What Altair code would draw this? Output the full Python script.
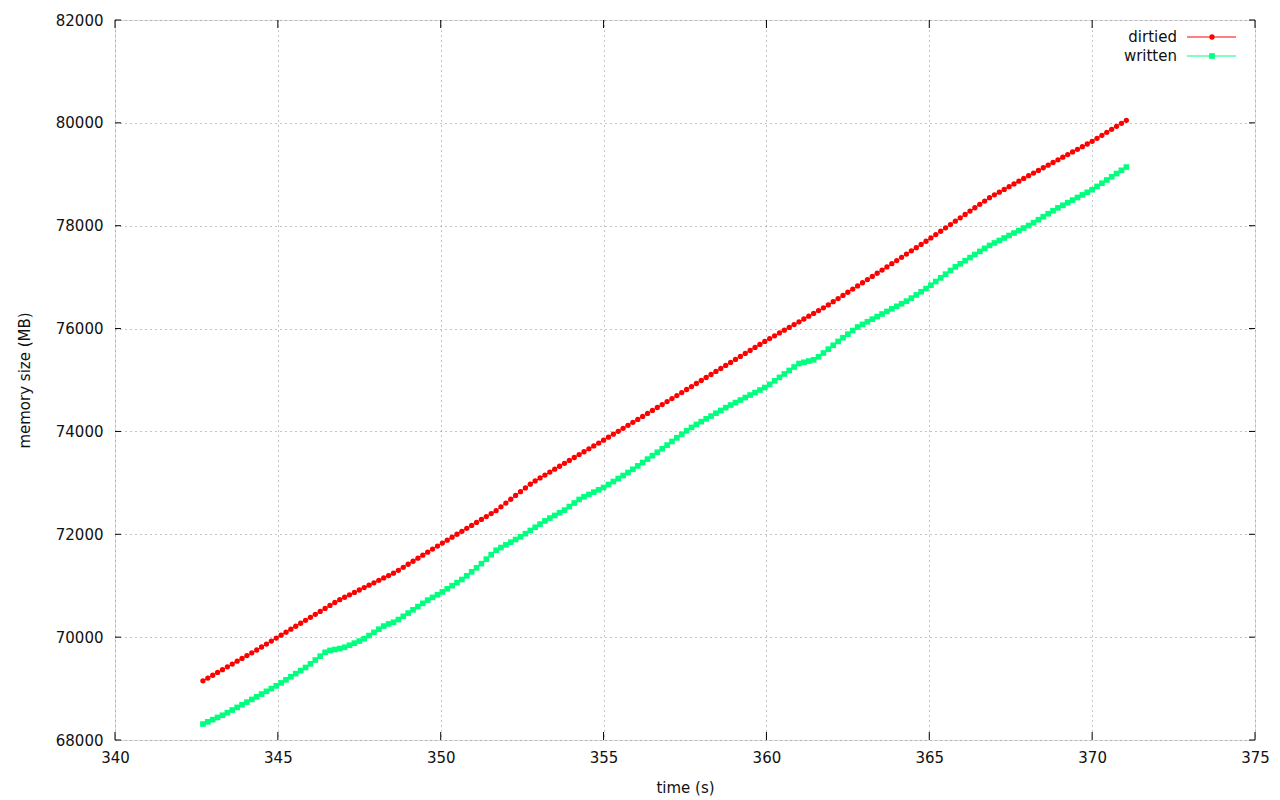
import altair as alt
import pandas as pd

TIME = [
    342.70, 342.85, 343.00, 343.15, 343.30, 343.45, 343.60, 343.75, 343.90, 344.05,
    344.20, 344.35, 344.50, 344.65, 344.80, 344.95, 345.10, 345.25, 345.40, 345.55,
    345.70, 345.85, 346.00, 346.15, 346.30, 346.45, 346.60, 346.75, 346.90, 347.05,
    347.20, 347.35, 347.50, 347.65, 347.80, 347.95, 348.10, 348.25, 348.40, 348.55,
    348.70, 348.85, 349.00, 349.15, 349.30, 349.45, 349.60, 349.75, 349.90, 350.05,
    350.20, 350.35, 350.50, 350.65, 350.80, 350.95, 351.10, 351.25, 351.40, 351.55,
    351.70, 351.85, 352.00, 352.15, 352.30, 352.45, 352.60, 352.75, 352.90, 353.05,
    353.20, 353.35, 353.50, 353.65, 353.80, 353.95, 354.10, 354.25, 354.40, 354.55,
    354.70, 354.85, 355.00, 355.15, 355.30, 355.45, 355.60, 355.75, 355.90, 356.05,
    356.20, 356.35, 356.50, 356.65, 356.80, 356.95, 357.10, 357.25, 357.40, 357.55,
    357.70, 357.85, 358.00, 358.15, 358.30, 358.45, 358.60, 358.75, 358.90, 359.05,
    359.20, 359.35, 359.50, 359.65, 359.80, 359.95, 360.10, 360.25, 360.40, 360.55,
    360.70, 360.85, 361.00, 361.15, 361.30, 361.45, 361.60, 361.75, 361.90, 362.05,
    362.20, 362.35, 362.50, 362.65, 362.80, 362.95, 363.10, 363.25, 363.40, 363.55,
    363.70, 363.85, 364.00, 364.15, 364.30, 364.45, 364.60, 364.75, 364.90, 365.05,
    365.20, 365.35, 365.50, 365.65, 365.80, 365.95, 366.10, 366.25, 366.40, 366.55,
    366.70, 366.85, 367.00, 367.15, 367.30, 367.45, 367.60, 367.75, 367.90, 368.05,
    368.20, 368.35, 368.50, 368.65, 368.80, 368.95, 369.10, 369.25, 369.40, 369.55,
    369.70, 369.85, 370.00, 370.15, 370.30, 370.45, 370.60, 370.75, 370.90, 371.05,
]

DIRTIED = [
    69150, 69205, 69259, 69314, 69368, 69423, 69477, 69532, 69586, 69641,
    69695, 69750, 69808, 69865, 69923, 69981, 70039, 70096, 70154, 70212,
    70270, 70327, 70385, 70443, 70501, 70558, 70616, 70674, 70729, 70776,
    70823, 70870, 70917, 70963, 71010, 71057, 71104, 71151, 71198, 71244,
    71299, 71358, 71417, 71476, 71535, 71594, 71653, 71712, 71771, 71829,
    71886, 71943, 72001, 72058, 72116, 72173, 72231, 72288, 72345, 72403,
    72460, 72534, 72607, 72681, 72755, 72828, 72902, 72975, 73038, 73095,
    73152, 73209, 73266, 73323, 73380, 73436, 73493, 73549, 73605, 73661,
    73718, 73774, 73830, 73888, 73946, 74003, 74061, 74119, 74177, 74234,
    74292, 74350, 74408, 74465, 74523, 74581, 74639, 74698, 74756, 74815,
    74873, 74932, 74990, 75049, 75107, 75166, 75224, 75283, 75341, 75400,
    75458, 75517, 75575, 75634, 75692, 75751, 75806, 75860, 75915, 75969,
    76023, 76078, 76132, 76186, 76241, 76295, 76349, 76404, 76460, 76522,
    76583, 76645, 76706, 76768, 76830, 76891, 76953, 77014, 77076, 77137,
    77199, 77261, 77323, 77386, 77448, 77511, 77573, 77636, 77698, 77762,
    77827, 77892, 77958, 78023, 78088, 78153, 78219, 78284, 78349, 78415,
    78480, 78545, 78600, 78653, 78706, 78759, 78813, 78866, 78919, 78972,
    79024, 79076, 79127, 79178, 79229, 79281, 79332, 79383, 79435, 79486,
    79537, 79589, 79640, 79699, 79757, 79816, 79874, 79933, 79991, 80050,
]

WRITTEN = [
    68310, 68353, 68396, 68439, 68481, 68531, 68583, 68634, 68686, 68737,
    68789, 68840, 68893, 68946, 69000, 69053, 69110, 69170, 69230, 69290,
    69350, 69410, 69480, 69555, 69630, 69705, 69742, 69760, 69778, 69803,
    69843, 69883, 69923, 69970, 70031, 70093, 70154, 70215, 70257, 70289,
    70342, 70405, 70468, 70531, 70594, 70657, 70720, 70773, 70825, 70880,
    70940, 71000, 71060, 71120, 71192, 71270, 71348, 71429, 71516, 71603,
    71690, 71742, 71794, 71846, 71898, 71950, 72012, 72074, 72136, 72198,
    72260, 72315, 72366, 72418, 72470, 72539, 72608, 72677, 72730, 72775,
    72820, 72865, 72910, 72968, 73026, 73084, 73143, 73201, 73264, 73330,
    73396, 73462, 73529, 73595, 73663, 73734, 73805, 73876, 73944, 74011,
    74078, 74136, 74190, 74245, 74299, 74354, 74408, 74462, 74513, 74561,
    74610, 74659, 74708, 74756, 74805, 74854, 74915, 74983, 75050, 75118,
    75185, 75253, 75320, 75344, 75368, 75392, 75450, 75525, 75600, 75675,
    75750, 75822, 75891, 75961, 76030, 76081, 76132, 76183, 76233, 76283,
    76333, 76383, 76433, 76483, 76533, 76592, 76654, 76716, 76778, 76844,
    76915, 76986, 77058, 77129, 77200, 77260, 77320, 77380, 77440, 77500,
    77560, 77616, 77665, 77713, 77762, 77810, 77858, 77907, 77955, 78004,
    78059, 78117, 78175, 78233, 78291, 78347, 78397, 78448, 78498, 78549,
    78599, 78650, 78700, 78763, 78826, 78889, 78951, 79014, 79077, 79140,
]

SERIES = ["dirtied", "written"]
COLORS = ["#ff0000", "#00ff7f"]
SHAPES = ["circle", "square"]
SIZES = [28, 32]
X_TICKS = [340, 345, 350, 355, 360, 365, 370, 375]
Y_TICKS = [68000, 70000, 72000, 74000, 76000, 78000, 80000, 82000]

W, H = 1140, 720
FONT = "DejaVu Sans"
FS = 15

df = pd.DataFrame({
    "time": TIME + TIME,
    "value": DIRTIED + WRITTEN,
    "series": [SERIES[0]] * len(TIME) + [SERIES[1]] * len(TIME),
})

xscale = alt.Scale(domain=[X_TICKS[0], X_TICKS[-1]], nice=False, zero=False)
yscale = alt.Scale(domain=[Y_TICKS[0], Y_TICKS[-1]], nice=False, zero=False)

common_axis = dict(
    grid=True, ticks=False, domain=False, format="d",
    gridColor="#8c8c8c", gridDash=[1, 4], gridWidth=1, gridOpacity=1,
    labelFont=FONT, labelFontSize=FS, labelColor="#111111",
    titleFont=FONT, titleFontSize=FS, titleFontWeight="normal", titleColor="#111111",
)
xaxis = alt.Axis(title="time (s)", values=X_TICKS, labelPadding=10, titlePadding=15,
                 labelFlush=False, labelOverlap=False, **common_axis)
yaxis = alt.Axis(title="memory size (MB)", values=Y_TICKS, labelPadding=12, titlePadding=23,
                 labelOverlap=False, **common_axis)

color = alt.Color("series:N", scale=alt.Scale(domain=SERIES, range=COLORS), legend=None)
shape = alt.Shape("series:N", scale=alt.Scale(domain=SERIES, range=SHAPES), legend=None)
size = alt.Size("series:N", scale=alt.Scale(domain=SERIES, range=SIZES), legend=None)

base = alt.Chart(df).encode(
    x=alt.X("time:Q", scale=xscale, axis=xaxis),
    y=alt.Y("value:Q", scale=yscale, axis=yaxis),
    color=color,
)
lines = base.mark_line(strokeWidth=1)
points = base.mark_point(filled=True, opacity=1, strokeWidth=0).encode(shape=shape, size=size)

xt = pd.DataFrame({"t": X_TICKS})
yt = pd.DataFrame({"t": Y_TICKS})
xenc = alt.X("t:Q", scale=xscale, axis=xaxis)
yenc = alt.Y("t:Q", scale=yscale, axis=yaxis)
tick_b = alt.Chart(xt).mark_rule(color="black", strokeWidth=1).encode(
    x=xenc, y=alt.value(H), y2=alt.value(H - 8))
tick_t = alt.Chart(xt).mark_rule(color="black", strokeWidth=1).encode(
    x=xenc, y=alt.value(0), y2=alt.value(8))
tick_l = alt.Chart(yt).mark_rule(color="black", strokeWidth=1).encode(
    y=yenc, x=alt.value(0), x2=alt.value(6))
tick_r = alt.Chart(yt).mark_rule(color="black", strokeWidth=1).encode(
    y=yenc, x=alt.value(W), x2=alt.value(W - 6))

# gnuplot-style key: label on the left, line sample with marker on the right
legend_layers = []
for i, name in enumerate(SERIES):
    ly = 17 + i * 19
    ldf = pd.DataFrame({"label": [name]})
    legend_layers.append(
        alt.Chart(ldf).mark_text(align="right", baseline="middle", font=FONT, fontSize=FS,
                                 color="#111111").encode(
            text="label:N", x=alt.value(1062), y=alt.value(ly)))
    legend_layers.append(
        alt.Chart(ldf).mark_rule(color=COLORS[i], strokeWidth=1).encode(
            x=alt.value(1072), x2=alt.value(1121), y=alt.value(ly)))
    legend_layers.append(
        alt.Chart(ldf).mark_point(shape=SHAPES[i], filled=True, size=SIZES[i], opacity=1,
                                  strokeWidth=0, color=COLORS[i]).encode(
            x=alt.value(1097), y=alt.value(ly)))

chart = alt.layer(lines, points, tick_b, tick_t, tick_l, tick_r, *legend_layers).properties(
    width=W, height=H,
    autosize=alt.AutoSizeParams(type="none"),
    padding={"left": 107, "top": 12, "right": 17, "bottom": 60},
).configure_view(stroke="black", strokeWidth=1).configure(background="white")

chart.save("out.html", embed_options={"renderer": "svg", "actions": False})
